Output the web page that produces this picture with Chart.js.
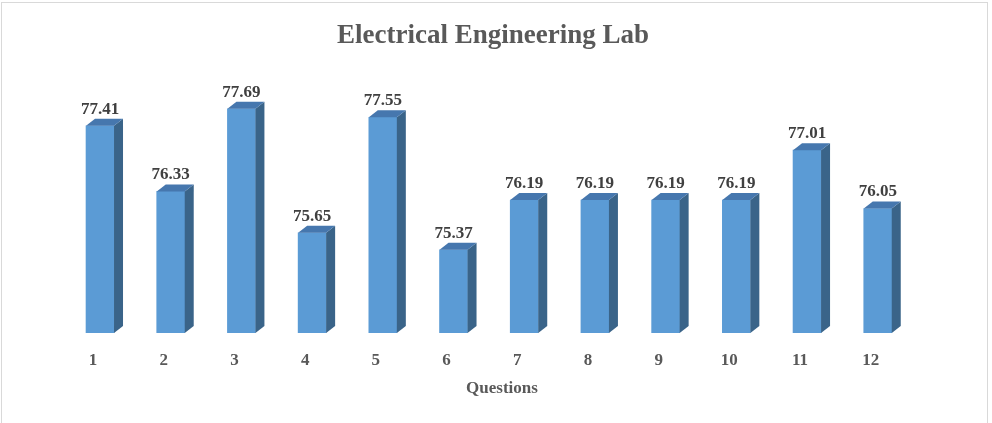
<!DOCTYPE html>
<html>
<head>
<meta charset="utf-8">
<script src="https://cdn.jsdelivr.net/npm/chart.js@4/dist/chart.umd.min.js"></script>
<style>
  html, body { margin: 0; padding: 0; background: #ffffff; overflow: hidden; }
  #wrap { position: relative; width: 992px; height: 423px; }
  #frame { position: absolute; left: 1px; top: 2px; width: 985px; height: 500px; border: 1px solid #d9d9d9; pointer-events: none; }
  canvas { display: block; }
</style>
</head>
<body>
<div id="wrap">
  <canvas id="c" width="992" height="423"></canvas>
  <div id="frame"></div>
</div>
<script>
const chartTitle = 'Electrical Engineering Lab';
const axisTitle = 'Questions';
const categories = ['1', '2', '3', '4', '5', '6', '7', '8', '9', '10', '11', '12'];
const scores = [77.41, 76.33, 77.69, 75.65, 77.55, 75.37, 76.19, 76.19, 76.19, 76.19, 77.01, 76.05];

const FRONT = '#5B9BD5';
const SIDE = '#3A6489';
const TOP = '#4677AE';
const DX = 9, DY = 7;

const bar3d = {
  id: 'bar3d',
  afterDatasetsDraw(chart) {
    const ctx = chart.ctx;
    const meta = chart.getDatasetMeta(0);
    const b = chart.chartArea.bottom;
    ctx.save();
    meta.data.forEach((bar) => {
      const p = bar.getProps(['x', 'y', 'width'], true);
      const l = p.x - p.width / 2, r = p.x + p.width / 2, t = p.y;
      ctx.fillStyle = SIDE;
      ctx.beginPath();
      ctx.moveTo(r, t); ctx.lineTo(r + DX, t - DY); ctx.lineTo(r + DX, b - DY); ctx.lineTo(r, b);
      ctx.closePath(); ctx.fill();
      ctx.fillStyle = TOP;
      ctx.beginPath();
      ctx.moveTo(l, t); ctx.lineTo(l + DX, t - DY); ctx.lineTo(r + DX, t - DY); ctx.lineTo(r, t);
      ctx.closePath(); ctx.fill();
    });
    ctx.restore();
  }
};

const valueLabels = {
  id: 'valueLabels',
  afterDatasetsDraw(chart) {
    const ctx = chart.ctx;
    const meta = chart.getDatasetMeta(0);
    ctx.save();
    ctx.font = 'bold 17px "Liberation Serif", "Times New Roman", serif';
    ctx.fillStyle = '#404040';
    ctx.textAlign = 'center';
    ctx.textBaseline = 'alphabetic';
    meta.data.forEach((bar, i) => {
      const p = bar.getProps(['x', 'y'], true);
      ctx.fillText(scores[i].toFixed(2), p.x, p.y - 12);
    });
    ctx.restore();
  }
};

new Chart(document.getElementById('c'), {
  type: 'bar',
  data: {
    datasets: [{
      data: scores.map((v, i) => ({ x: i, y: v })),
      backgroundColor: FRONT,
      borderWidth: 0,
      barThickness: 28
    }]
  },
  options: {
    responsive: false,
    animation: false,
    events: [],
    layout: { padding: { left: 0, right: 6, top: 0, bottom: 0 } },
    plugins: {
      legend: { display: false },
      tooltip: { enabled: false },
      title: {
        display: true,
        text: chartTitle,
        color: '#595959',
        font: { family: '"Liberation Serif", "Times New Roman", serif', size: 27, weight: 'bold', lineHeight: 1.2 },
        padding: { top: 19.5, bottom: 38.1 }
      }
    },
    scales: {
      x: {
        type: 'linear',
        position: 'bottom',
        offset: false,
        min: -0.566,
        max: 11.937,
        grid: { display: false, drawTicks: false, offset: false },
        border: { display: false },
        afterFit(scale) { scale.height = 90; },
        afterBuildTicks(scale) { scale.ticks = categories.map((c, i) => ({ value: i })); },
        ticks: {
          autoSkip: false,
          maxRotation: 0,
          padding: 17,
          labelOffset: -7,
          color: '#595959',
          font: { family: '"Liberation Serif", "Times New Roman", serif', size: 17, weight: 'bold' },
          callback: (v) => categories[Math.round(v)]
        },
        title: {
          display: true,
          text: axisTitle,
          color: '#595959',
          font: { family: '"Liberation Serif", "Times New Roman", serif', size: 17, weight: 'bold', lineHeight: 1.2 },
          padding: { top: 0, bottom: 24 }
        }
      },
      y: {
        position: 'left',
        min: 74,
        max: 78,
        grid: { display: false, drawTicks: false },
        border: { display: false },
        ticks: { display: false },
        afterFit(scale) { scale.width = 60; }
      },
      y2: {
        position: 'right',
        min: 0,
        max: 1,
        grid: { display: false, drawTicks: false },
        border: { display: false },
        ticks: { display: false },
        afterFit(scale) { scale.width = 42; }
      }
    }
  },
  plugins: [bar3d, valueLabels]
});
</script>
</body>
</html>
